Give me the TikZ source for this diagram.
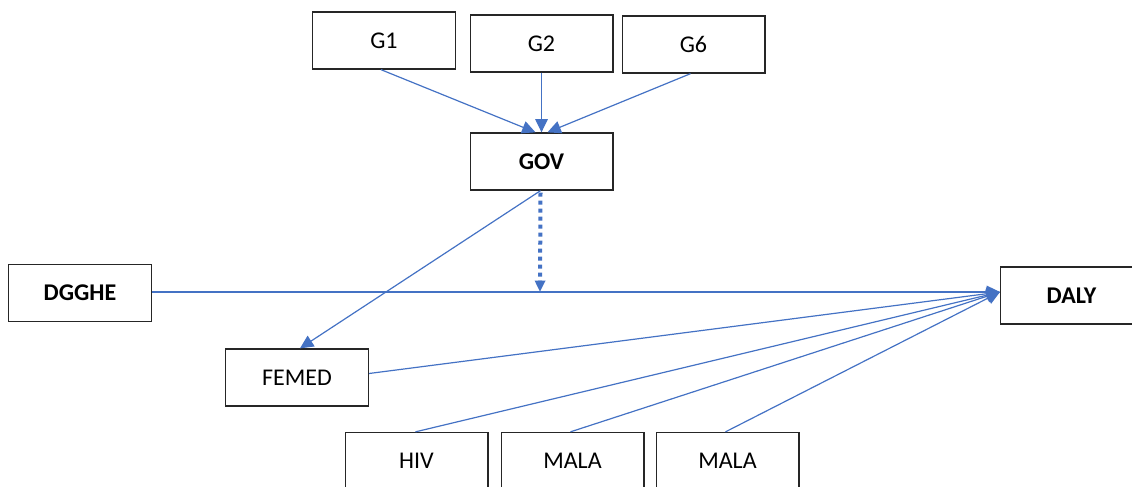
\documentclass[tikz,border=0pt]{standalone}
\usepackage{fontspec}
\setmainfont{Carlito}
\usetikzlibrary{arrows.meta,calc}
\begin{document}
\begin{tikzpicture}[x=0.75pt,y=-0.75pt,
  box/.style={draw=black!85,line width=1pt,minimum width=107pt,minimum height=42.75pt,inner sep=0pt,font=\fontsize{18}{20}\selectfont},
  bbox/.style={box,font=\fontsize{18}{20}\selectfont\bfseries},
  link/.style={draw=linkblue,line width=0.9pt,-{Triangle[length=10pt,width=9.5pt]}},
  dotlink/.style={draw=linkblue,line width=3pt,dash pattern=on 3pt off 3pt,-{Triangle[length=8.5pt,width=7.5pt]}}]
\definecolor{linkblue}{HTML}{4472C4}
\useasboundingbox (0,0) rectangle (1132,486);
\clip (0,0) rectangle (1132,486);
\node[box] (g1) at (384,40.5) {G1};
\node[box] (g2) at (541.5,43.5) {G2};
\node[box] (g6) at (693.5,44.5) {G6};
\node[bbox] (gov) at (541.5,161.5) {GOV};
\node[bbox] (dgghe) at (80,293) {DGGHE};
\node[bbox] (daly) at (1071.5,295.5) {DALY};
\node[box] (femed) at (297,377.5) {FEMED};
\node[box] (hiv) at (416.5,461) {HIV};
\node[box] (mala1) at (572.5,461) {MALA};
\node[box] (mala2) at (727.5,461) {MALA};
\coordinate (dalyin) at (1000,292);
\coordinate (mid) at (540,292);
\draw[link] ($(g1.south)+(-3,0)$) -- ($(gov.north)+(-6,0)$);
\draw[link] (g2.south) -- (gov.north);
\draw[link] ($(g6.south)+(-3,0)$) -- ($(gov.north)+(6,0)$);
\draw[link] ($(gov.south)+(-1,0)$) -- ($(femed.north)+(3,0)$);
\draw[dotlink] ($(gov.south)+(-1,2)$) -- (mid);
\draw[link] (dgghe.east |- dalyin) -- (dalyin);
\draw[link] ($(femed.east)+(0,-4)$) -- (dalyin);
\draw[link] ($(hiv.north)+(-1,0)$) -- (dalyin);
\draw[link] ($(mala1.north)+(-2,0)$) -- (dalyin);
\draw[link] ($(mala2.north)+(-2,0)$) -- (dalyin);
\end{tikzpicture}
\end{document}
